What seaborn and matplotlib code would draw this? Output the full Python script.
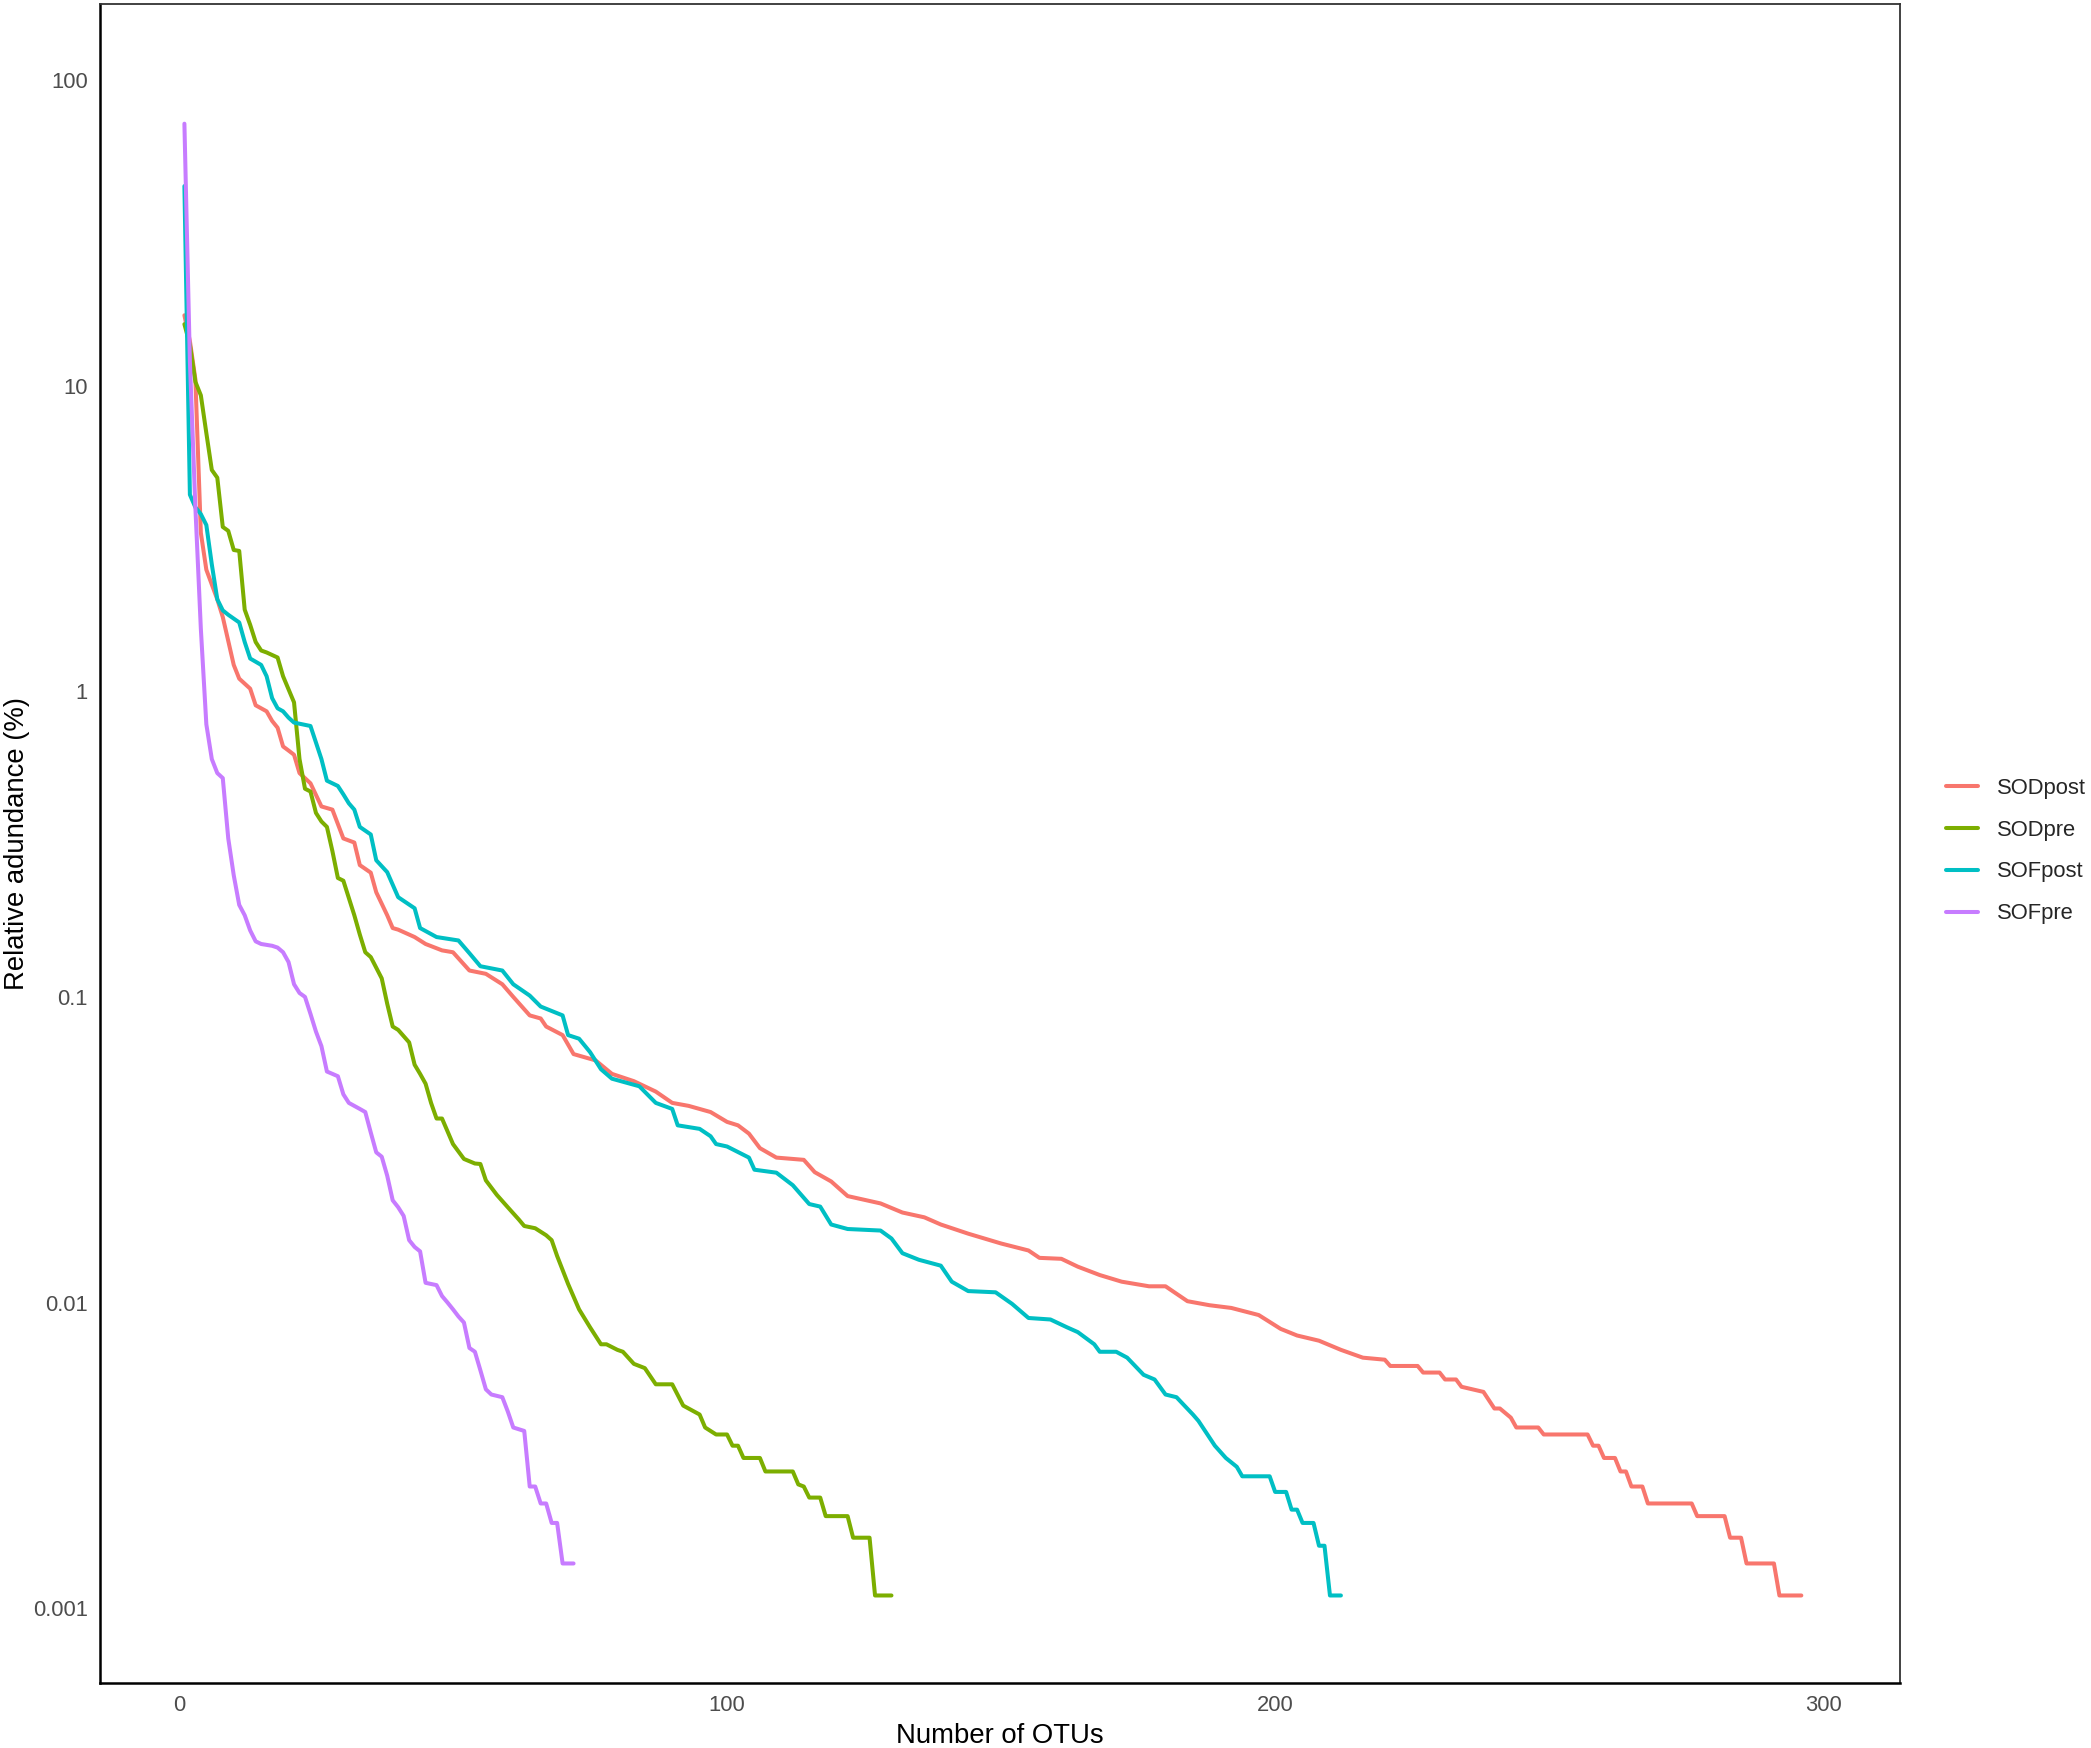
import numpy as np
import pandas as pd
import matplotlib
matplotlib.use("Agg")
import matplotlib.pyplot as plt
import seaborn as sns
from matplotlib.ticker import FixedLocator, FixedFormatter, NullLocator
from matplotlib.lines import Line2D

# ---- data (rank, relative abundance %) ----
groups = ["SODpost", "SODpre", "SOFpost", "SOFpre"]
colors = ["#F8766D", "#7CAE00", "#00BFC4", "#C77CFF"]

sodpost_x = [1, 2, 3, 4, 5, 7, 8, 10, 11, 13, 14, 16, 17, 18, 19, 20, 21, 22, 24, 26, 28, 30, 32, 33, 35,
             36, 38, 39, 40, 43, 45, 48, 50, 53, 56, 59, 61, 64, 66, 67, 70, 72, 76, 79, 83, 87, 90, 93,
             97, 100, 102, 104, 106, 109, 114, 116, 119, 122, 128, 132, 136, 139, 144, 150, 155, 157,
             161, 164, 168, 172, 177, 180, 184, 188, 192, 197, 201, 204, 208, 212, 216, 220, 221, 226,
             227, 230, 231, 233, 234, 238, 240, 241, 243, 244, 248, 249, 257, 258, 259, 260, 262, 263,
             264, 265, 267, 268, 276, 277, 282, 283, 285, 286, 291, 292, 296]
sodpost_y = [17, 14, 10.5, 3.3, 2.5, 2.0, 1.75, 1.22, 1.1, 1.02, 0.9, 0.86, 0.8, 0.76, 0.66, 0.64, 0.62,
             0.54, 0.5, 0.42, 0.41, 0.33, 0.32, 0.27, 0.255, 0.22, 0.185, 0.168, 0.166, 0.157, 0.149,
             0.142, 0.14, 0.122, 0.119, 0.11, 0.1, 0.087, 0.085, 0.08, 0.075, 0.065, 0.062, 0.056,
             0.053, 0.049, 0.045, 0.044, 0.042, 0.039, 0.038, 0.0357, 0.032, 0.0298, 0.0293, 0.0267,
             0.0249, 0.0223, 0.0211, 0.0197, 0.019, 0.018, 0.0168, 0.0156, 0.0148, 0.014, 0.0139,
             0.0131, 0.0123, 0.0117, 0.0113, 0.0113, 0.0101, 0.0098, 0.0096, 0.0091, 0.0082, 0.0078,
             0.0075, 0.007, 0.0066, 0.0065, 0.0062, 0.0062, 0.0059, 0.0059, 0.0056, 0.0056, 0.0053,
             0.0051, 0.0045, 0.0045, 0.0042, 0.0039, 0.0039, 0.0037, 0.0037, 0.0034, 0.0034, 0.0031,
             0.0031, 0.0028, 0.0028, 0.0025, 0.0025, 0.0022, 0.0022, 0.0020, 0.0020, 0.0017, 0.0017,
             0.0014, 0.0014, 0.0011, 0.0011]

sodpre_x = [1, 2, 3, 4, 5, 6, 7, 8, 9, 10, 11, 12, 13, 14, 15, 16, 18, 19, 21, 22, 23, 24, 25, 26, 27, 28,
            29, 30, 32, 33, 34, 35, 37, 38, 39, 40, 42, 43, 44, 45, 46, 47, 48, 50, 52, 54, 55, 56, 58,
            60, 62, 63, 65, 67, 68, 69, 71, 73, 75, 77, 78, 80, 81, 83, 85, 87, 90, 92, 95, 96, 98, 100,
            101, 102, 103, 106, 107, 112, 113, 114, 115, 117, 118, 122, 123, 126, 127, 130]
sodpre_y = [15.9, 13.6, 10.3, 9.3, 7.0, 5.3, 5.0, 3.45, 3.35, 2.9, 2.88, 1.85, 1.65, 1.45, 1.36, 1.34,
            1.29, 1.12, 0.92, 0.6, 0.48, 0.47, 0.4, 0.375, 0.36, 0.3, 0.245, 0.24, 0.185, 0.16, 0.14,
            0.135, 0.115, 0.095, 0.08, 0.078, 0.071, 0.06, 0.056, 0.052, 0.045, 0.040, 0.040, 0.033,
            0.0295, 0.0285, 0.0284, 0.0251, 0.0225, 0.0205, 0.0187, 0.0178, 0.0175, 0.0166, 0.016,
            0.0142, 0.0115, 0.0095, 0.0083, 0.0073, 0.0073, 0.007, 0.0069, 0.0063, 0.0061, 0.0054,
            0.0054, 0.0046, 0.0043, 0.0039, 0.0037, 0.0037, 0.0034, 0.0034, 0.0031, 0.0031, 0.0028,
            0.0028, 0.00254, 0.0025, 0.0023, 0.0023, 0.0020, 0.0020, 0.0017, 0.0017, 0.0011, 0.0011]

sofpost_x = [1, 2, 3, 4, 5, 6, 7, 8, 9, 11, 12, 13, 15, 16, 17, 18, 19, 20, 21, 24, 25, 26, 27, 29, 30, 31,
             32, 33, 35, 36, 38, 40, 43, 44, 47, 51, 53, 55, 59, 61, 64, 66, 70, 71, 73, 75, 77, 79, 84,
             87, 90, 91, 95, 97, 98, 100, 104, 105, 109, 112, 115, 117, 119, 122, 128, 130, 132, 135,
             139, 141, 144, 149, 152, 155, 159, 162, 164, 167, 168, 171, 173, 176, 178, 180, 182, 185,
             186, 189, 191, 193, 194, 199, 200, 202, 203, 204, 205, 207, 208, 209, 210, 212]
sofpost_y = [45, 4.4, 4.0, 3.8, 3.5, 2.6, 2.0, 1.84, 1.78, 1.68, 1.45, 1.28, 1.22, 1.12, 0.95, 0.88, 0.86,
             0.82, 0.79, 0.77, 0.68, 0.6, 0.51, 0.49, 0.46, 0.43, 0.41, 0.36, 0.34, 0.28, 0.256, 0.212,
             0.195, 0.168, 0.157, 0.153, 0.139, 0.126, 0.122, 0.11, 0.101, 0.093, 0.087, 0.075, 0.073,
             0.066, 0.058, 0.054, 0.051, 0.045, 0.043, 0.038, 0.037, 0.035, 0.033, 0.0324, 0.0298,
             0.0272, 0.0266, 0.0242, 0.021, 0.0206, 0.018, 0.0174, 0.0172, 0.0162, 0.0145, 0.0138,
             0.0132, 0.0117, 0.0109, 0.0108, 0.0099, 0.0089, 0.0088, 0.0083, 0.008, 0.0073, 0.0069,
             0.0069, 0.0066, 0.0058, 0.0056, 0.005, 0.0049, 0.0043, 0.0041, 0.0034, 0.0031, 0.0029,
             0.0027, 0.0027, 0.0024, 0.0024, 0.0021, 0.0021, 0.0019, 0.0019, 0.0016, 0.0016, 0.0011,
             0.0011]

sofpre_x = [1, 2, 3, 4, 5, 6, 7, 8, 9, 10, 11, 12, 13, 14, 15, 17, 18, 19, 20, 21, 22, 23, 24, 25, 26, 27,
            28, 29, 30, 31, 33, 34, 35, 36, 37, 38, 39, 40, 41, 42, 43, 44, 45, 47, 48, 49, 50, 51, 52,
            53, 54, 55, 56, 57, 59, 60, 61, 63, 64, 65, 66, 67, 68, 69, 70, 72]
sofpre_y = [72, 12, 4.0, 1.6, 0.78, 0.6, 0.54, 0.52, 0.33, 0.25, 0.2, 0.185, 0.165, 0.152, 0.149, 0.147,
            0.145, 0.14, 0.13, 0.11, 0.103, 0.1, 0.088, 0.077, 0.069, 0.057, 0.056, 0.055, 0.048,
            0.045, 0.043, 0.042, 0.036, 0.031, 0.030, 0.026, 0.0216, 0.0205, 0.0192, 0.016, 0.0152,
            0.0147, 0.0116, 0.0114, 0.0105, 0.010, 0.0095, 0.009, 0.0086, 0.0071, 0.0069, 0.006,
            0.0052, 0.005, 0.0049, 0.0044, 0.0039, 0.0038, 0.0025, 0.0025, 0.0022, 0.0022, 0.0019,
            0.0019, 0.0014, 0.0014]

y_ticks = [0.001, 0.01, 0.1, 1, 10, 100]
y_labels = ["0.001", "0.01", "0.1", "1", "10", "100"]
x_ticks = [0, 100, 200, 300]
x_labels = ["0", "100", "200", "300"]

frames = []
for g, xs, ys in zip(groups,
                     [sodpost_x, sodpre_x, sofpost_x, sofpre_x],
                     [sodpost_y, sodpre_y, sofpost_y, sofpre_y]):
    frames.append(pd.DataFrame({"OTU": xs, "abund": ys, "group": g}))
df = pd.concat(frames, ignore_index=True)

# ---- styling ----
sns.set_style("white")
plt.rcParams["font.family"] = ["Liberation Sans", "DejaVu Sans"]

W, H = 2091, 1748
fig = plt.figure(figsize=(W / 100, H / 100), dpi=100)
ax = fig.add_axes([100 / W, 1 - 1683 / H, 1800 / W, 1679 / H])

sns.lineplot(data=df, x="OTU", y="abund", hue="group", hue_order=groups,
             palette=colors, estimator=None, sort=True, linewidth=2.9, ax=ax, legend=False)

ax.set_yscale("log")
ax.set_xlim(-14.4, 314.0)
ax.set_ylim(10 ** -3.245, 10 ** 2.249)
ax.yaxis.set_major_locator(FixedLocator(y_ticks))
ax.yaxis.set_major_formatter(FixedFormatter(y_labels))
ax.yaxis.set_minor_locator(NullLocator())
ax.xaxis.set_major_locator(FixedLocator(x_ticks))
ax.xaxis.set_major_formatter(FixedFormatter(x_labels))

ax.tick_params(axis="both", which="major", direction="out", length=3.6, width=1.3,
               color="#333333", labelcolor="#4D4D4D", labelsize=15.8, pad=5)
ax.set_xlabel("Number of OTUs", fontsize=19.8, color="black", labelpad=5)
ax.set_ylabel("Relative adundance (%)", fontsize=19.8, color="black")
ax.yaxis.set_label_coords(-0.039, 0.5)

for side in ["top", "right"]:
    ax.spines[side].set_color("#333333")
    ax.spines[side].set_linewidth(1.3)
for side in ["bottom", "left"]:
    ax.spines[side].set_color("black")
    ax.spines[side].set_linewidth(1.8)
ax.grid(False)

# legend
handles = [Line2D([0], [0], color=c, linewidth=2.9) for c in colors]
fig.legend(handles, groups, loc="center left", bbox_to_anchor=(1946 / W, 1 - 851 / H),
           frameon=False, fontsize=15.8, handlelength=1.45, handletextpad=0.85,
           labelspacing=0.95, borderpad=0, borderaxespad=0)

fig.savefig("out.png", dpi=100)
